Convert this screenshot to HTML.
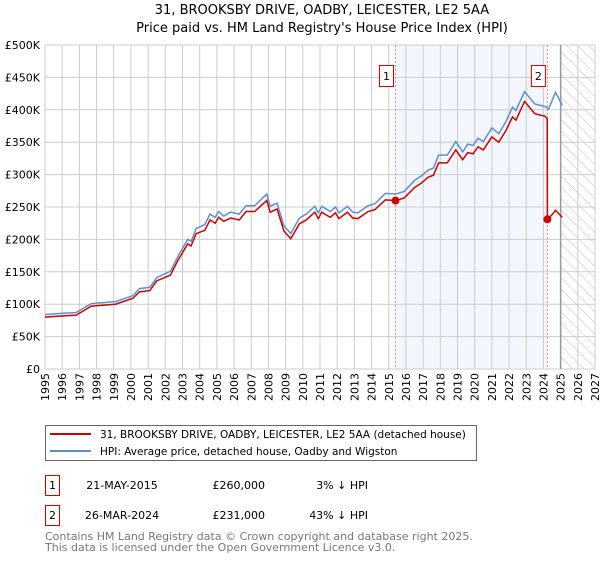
<!DOCTYPE html>
<html><head><meta charset="utf-8"><style>
body{margin:0;background:#fff;font-family:"Liberation Sans","DejaVu Sans",sans-serif;}
</style></head><body>
<svg id="chart" width="600" height="560" xmlns="http://www.w3.org/2000/svg" style="font-family:'DejaVu Sans','Liberation Sans',sans-serif">
<text x="322" y="14" text-anchor="middle" font-size="13" fill="#000">31, BROOKSBY DRIVE, OADBY, LEICESTER, LE2 5AA</text>
<text x="322" y="32" text-anchor="middle" font-size="13" fill="#000">Price paid vs. HM Land Registry's House Price Index (HPI)</text>
<defs><pattern id="hatch" width="8" height="8" patternUnits="userSpaceOnUse" patternTransform="rotate(-45)"><line x1="0" y1="0" x2="0" y2="8" stroke="#bbb" stroke-width="1"/></pattern></defs>
<g id="plot"></g>
<g>
<rect x="45.5" y="425.5" width="431" height="35" fill="#fff" stroke="#666"/>
<line x1="50" y1="434" x2="91" y2="434" stroke="#cc0000" stroke-width="2"/>
<text x="100" y="438" font-size="10.5">31, BROOKSBY DRIVE, OADBY, LEICESTER, LE2 5AA (detached house)</text>
<line x1="50" y1="451" x2="91" y2="451" stroke="#5b8fd0" stroke-width="2"/>
<text x="100" y="455" font-size="10.5">HPI: Average price, detached house, Oadby and Wigston</text>
</g>
<g font-size="11">
<rect x="45.5" y="475.5" width="14" height="20" fill="#fff" stroke="#cc0000"/>
<text x="52.5" y="489" text-anchor="middle">1</text>
<text x="122" y="489" text-anchor="middle">21-MAY-2015</text>
<text x="265" y="489" text-anchor="end">£260,000</text>
<text x="368" y="489" text-anchor="end">3% ↓ HPI</text>
<rect x="45.5" y="505.5" width="14" height="20" fill="#fff" stroke="#cc0000"/>
<text x="52.5" y="519" text-anchor="middle">2</text>
<text x="122" y="519" text-anchor="middle">26-MAR-2024</text>
<text x="265" y="519" text-anchor="end">£231,000</text>
<text x="368" y="519" text-anchor="end">43% ↓ HPI</text>
</g>
<text x="45" y="540" font-size="11" fill="#777">Contains HM Land Registry data © Crown copyright and database right 2025.</text>
<text x="45" y="551" font-size="11" fill="#777">This data is licensed under the Open Government Licence v3.0.</text>
</svg>
<script>
const hpiYears=[1995.0,1996.05,1996.8,1997.7,1999.1,2000.1,2000.5,2001.1,2001.5,2002.3,2002.7,2003.3,2003.5,2003.8,2004.3,2004.6,2004.9,2005.1,2005.4,2005.8,2006.3,2006.7,2007.2,2007.9,2008.1,2008.5,2008.9,2009.3,2009.8,2010.2,2010.7,2010.9,2011.1,2011.6,2011.9,2012.1,2012.6,2012.9,2013.2,2013.8,2014.2,2014.8,2015.4,2015.9,2016.5,2016.9,2017.3,2017.6,2017.9,2018.4,2018.9,2019.3,2019.6,2019.9,2020.2,2020.5,2021.0,2021.4,2021.8,2022.2,2022.4,2022.9,2023.5,2024.1,2024.3,2024.7,2025.1];
const hpiValues=[84,86,87,101,104,113,124,126,141,151,172,200,197,217,223,239,234,243,236,242,239,252,252,270,251,256,221,209,233,239,251,241,251,243,250,241,251,242,241,252,255,271,270,274,291,298,307,310,330,330,351,335,347,345,356,351,372,363,381,404,399,428,409,405,401,427,407];
const priceYears=[1995.0,1996.05,1996.8,1997.7,1999.1,2000.1,2000.5,2001.1,2001.5,2002.3,2002.7,2003.3,2003.5,2003.8,2004.3,2004.6,2004.9,2005.1,2005.4,2005.8,2006.3,2006.7,2007.2,2007.9,2008.1,2008.5,2008.9,2009.3,2009.8,2010.2,2010.7,2010.9,2011.1,2011.6,2011.9,2012.1,2012.6,2012.9,2013.2,2013.8,2014.2,2014.8,2015.39,2015.9,2016.5,2016.9,2017.3,2017.6,2017.9,2018.4,2018.9,2019.3,2019.6,2019.9,2020.2,2020.5,2021.0,2021.4,2021.8,2022.2,2022.4,2022.9,2023.5,2024.1,2024.22,2024.23,2024.5,2024.7,2025.1];
const priceValues=[80,82,83,97,100,109,119,121,136,145,166,193,190,209,214,230,225,234,228,233,230,243,243,260,242,247,213,201,224,230,242,232,242,234,241,232,242,233,232,243,246,261,260,264,280,287,296,299,318,318,338,323,334,332,343,338,358,350,367,389,384,413,394,390,386,231,238,245,234];
const yTicks=[0,50,100,150,200,250,300,350,400,450,500];
const yTickLabels=["£0","£50K","£100K","£150K","£200K","£250K","£300K","£350K","£400K","£450K","£500K"];
const xTicks=[1995,1996,1997,1998,1999,2000,2001,2002,2003,2004,2005,2006,2007,2008,2009,2010,2011,2012,2013,2014,2015,2016,2017,2018,2019,2020,2021,2022,2023,2024,2025,2026,2027];
const saleYears=[2015.39,2024.23];
const saleValues=[260,231];
const saleLabels=["1","2"];
const forecastStart=2025.0;

const L=45,R=595,T=45,B=369;
const X=y=>L+(y-1995)/(2027-1995)*(R-L);
const Y=v=>B-v/500*(B-T);
const NS="http://www.w3.org/2000/svg";
const g=document.getElementById('plot');
function mk(tag,attrs){const e=document.createElementNS(NS,tag);for(const k in attrs)e.setAttribute(k,attrs[k]);g.appendChild(e);return e;}
let e;
e=mk('rect',{x:X(saleYears[0]),y:T,width:X(saleYears[1])-X(saleYears[0]),height:B-T,fill:'#eef3fc',opacity:0.7});


e=mk('rect',{x:X(forecastStart),y:T,width:R-X(forecastStart),height:B-T,fill:'url(#hatch)'});


xTicks.forEach(t=>{e=mk('line',{x1:X(t),y1:T,x2:X(t),y2:B,stroke:'#ccc','stroke-width':1});


e=mk('text',{x:0,y:0,'font-size':11,'text-anchor':'end',transform:`translate(${X(t)+4},${B+4}) rotate(-90)`});e.textContent=t;

});
yTicks.forEach((t,i)=>{e=mk('line',{x1:L,y1:Y(t),x2:R,y2:Y(t),stroke:'#ccc','stroke-width':1});


e=mk('text',{x:L-5,y:Y(t)+4,'font-size':11,'text-anchor':'end'});e.textContent=yTickLabels[i];

});
e=mk('line',{x1:X(forecastStart),y1:T,x2:X(forecastStart),y2:B,stroke:'#999','stroke-width':1.5});


saleYears.forEach((s,i)=>{e=mk('line',{x1:X(s),y1:T,x2:X(s),y2:B,stroke:'#f08080','stroke-width':1,'stroke-dasharray':'2,2'});


e=mk('rect',{x:X(s)-16,y:65.5,width:14,height:21,fill:'#fff',stroke:'#cc0000'});


e=mk('text',{x:X(s)-9,y:80,'font-size':11,'text-anchor':'middle'});e.textContent=saleLabels[i];

});
e=mk('polyline',{points:hpiYears.map((y,i)=>X(y)+','+Y(hpiValues[i])).join(' '),fill:'none',stroke:'#5b8fd0','stroke-width':1.5});


e=mk('polyline',{points:priceYears.map((y,i)=>X(y)+','+Y(priceValues[i])).join(' '),fill:'none',stroke:'#cc0000','stroke-width':1.5});


saleYears.forEach((s,i)=>{e=mk('circle',{cx:X(s),cy:Y(saleValues[i]),r:4,fill:'#cc0000'});

});
</script>
</body></html>
